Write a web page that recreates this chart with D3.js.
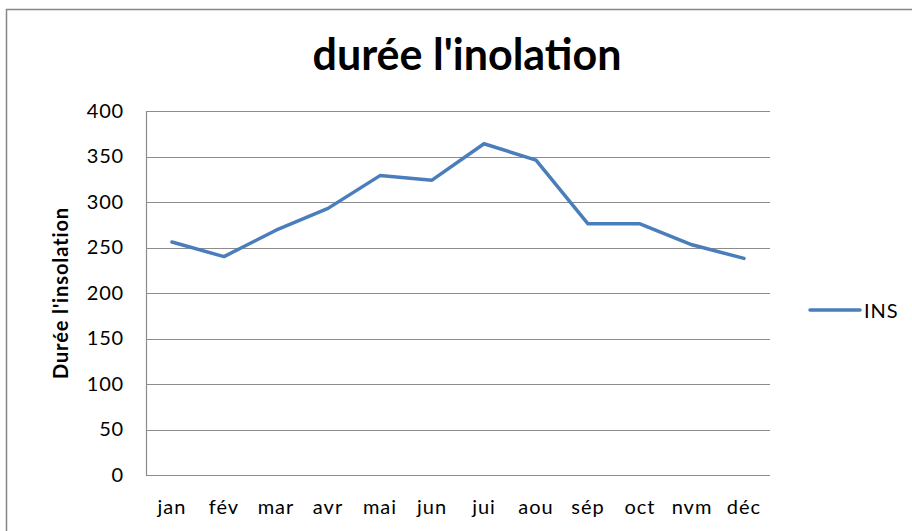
<!DOCTYPE html>
<html>
<head>
<meta charset="utf-8">
<script src="https://cdn.jsdelivr.net/npm/d3@7"></script>
<style>
  body { margin: 0; background: #fff; }
  text { font-family: Lato, "Open Sans", sans-serif; fill: #000; }
</style>
</head>
<body>
<script>
var months = ["jan", "fév", "mar", "avr", "mai", "jun", "jui", "aou", "sép", "oct", "nvm", "déc"];
var insValues = [256, 240, 269, 293, 329, 324, 364, 346, 276, 276, 253, 238];
var yTicks = [0, 50, 100, 150, 200, 250, 300, 350, 400];
var seriesName = "INS";
var chartTitle = "durée l'inolation";
var yTitle = "Durée l'insolation";

var width = 912;
var height = 531;
var plot = {left: 146, top: 111, right: 770, bottom: 475};

var svg = d3.select("body").append("svg")
            .attr("width", width)
            .attr("height", height);

// chart border
svg.append("rect")
   .attr("x", 6.5).attr("y", 9.5)
   .attr("width", 920).attr("height", 540)
   .attr("fill", "none")
   .attr("stroke", "#868686")
   .attr("stroke-width", 1.5);

var xScale = d3.scaleBand()
               .domain(months)
               .range([plot.left, plot.right]);
var yScale = d3.scaleLinear()
               .domain([0, 400])
               .range([plot.bottom, plot.top]);

// gridlines
svg.append("g")
   .selectAll("line")
   .data(yTicks)
   .enter()
   .append("line")
   .attr("x1", plot.left)
   .attr("x2", plot.right)
   .attr("y1", function(d) { return Math.round(yScale(d)) + 0.5; })
   .attr("y2", function(d) { return Math.round(yScale(d)) + 0.5; })
   .attr("stroke", "#8c8c8c")
   .attr("stroke-width", 1.2);

// y axis line
svg.append("line")
   .attr("x1", plot.left + 0.5).attr("x2", plot.left + 0.5)
   .attr("y1", plot.top).attr("y2", plot.bottom)
   .attr("stroke", "#8c8c8c")
   .attr("stroke-width", 1.2);

// y tick labels
var yAxis = d3.axisLeft(yScale).tickValues(yTicks).tickSize(0).tickPadding(22);
var yg = svg.append("g")
   .attr("transform", "translate(" + plot.left + ",0)")
   .call(yAxis);
yg.select(".domain").remove();
yg.selectAll("text")
  .style("font-family", "Lato, 'Open Sans', sans-serif")
  .style("font-size", "20px")
  .style("letter-spacing", "0.8px")
  .attr("fill", "#000");

// x tick labels
var xAxis = d3.axisBottom(xScale).tickSize(0).tickPadding(25);
var xg = svg.append("g")
   .attr("transform", "translate(0," + plot.bottom + ")")
   .call(xAxis);
xg.select(".domain").remove();
xg.selectAll("text")
  .style("font-family", "Lato, 'Open Sans', sans-serif")
  .style("font-size", "20px")
  .style("letter-spacing", "1px")
  .attr("fill", "#000");

// line
var line = d3.line()
             .x(function(d, i) { return xScale(months[i]) + xScale.bandwidth() / 2; })
             .y(function(d) { return yScale(d); });
svg.append("path")
   .datum(insValues)
   .attr("d", line)
   .attr("fill", "none")
   .attr("stroke", "#4a7ebb")
   .attr("stroke-width", 3.5)
   .attr("stroke-linejoin", "round")
   .attr("stroke-linecap", "round");

// title
svg.append("text")
   .attr("x", 467)
   .attr("y", 70)
   .attr("text-anchor", "middle")
   .style("font-size", "43px")
   .style("font-weight", "bold")
   .text(chartTitle);

// y axis title
svg.append("text")
   .attr("transform", "translate(68," + (plot.top + plot.bottom) / 2 + ") rotate(-90)")
   .attr("text-anchor", "middle")
   .style("font-size", "20px")
   .style("font-weight", "bold")
   .style("letter-spacing", "0.9px")
   .text(yTitle);

// legend
svg.append("line")
   .attr("x1", 810).attr("x2", 860)
   .attr("y1", 310).attr("y2", 310)
   .attr("stroke", "#4a7ebb")
   .attr("stroke-width", 3.5)
   .attr("stroke-linecap", "round");
svg.append("text")
   .attr("x", 864)
   .attr("y", 318)
   .style("font-size", "20px")
   .style("letter-spacing", "1px")
   .text(seriesName);
</script>
</body>
</html>
